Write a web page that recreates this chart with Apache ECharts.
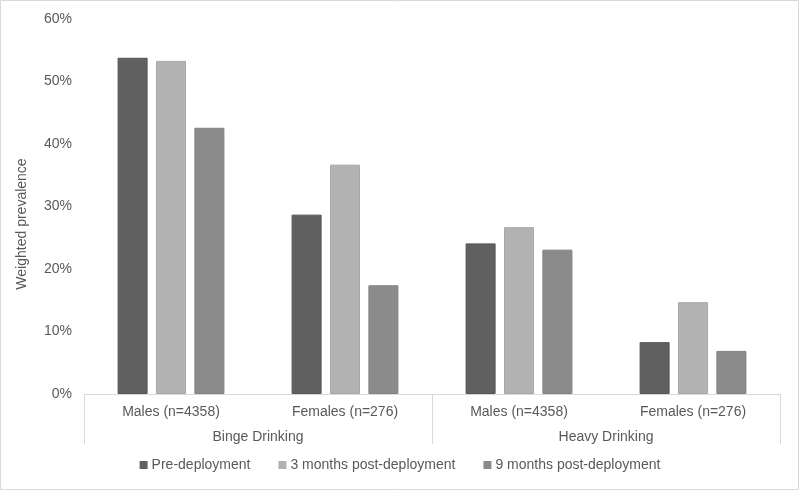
<!DOCTYPE html>
<html>
<head>
<meta charset="utf-8">
<script src="https://cdn.jsdelivr.net/npm/echarts@6/dist/echarts.min.js"></script>
<style>html,body{margin:0;padding:0;background:#fff}#c{width:800px;height:491px}</style>
</head>
<body>
<div id="c"></div>
<script>
const subCategories = ["Males (n=4358)", "Females (n=276)", "Males (n=4358)", "Females (n=276)"];
const groupCategories = ["Binge Drinking", "Heavy Drinking"];
const seriesNames = ["Pre-deployment", "3 months post-deployment", "9 months post-deployment"];
const preDeployment = [53.8, 28.7, 24.1, 8.3];
const threeMonths = [53.3, 36.7, 26.7, 14.7];
const nineMonths = [42.6, 17.4, 23.1, 6.9];
const yTicks = [0, 10, 20, 30, 40, 50, 60];
const yTitle = "Weighted prevalence";

const colors = ["#606060", "#b2b2b2", "#8b8b8b"];
const borders = ["#555555", "#a8a8a8", "#808080"];
const values = [preDeployment, threeMonths, nineMonths];
const font = "Liberation Sans, Arial, sans-serif";

const chart = echarts.init(document.getElementById('c'), null, {renderer: 'canvas'});
chart.setOption({
  animation: false,
  backgroundColor: '#ffffff',
  color: colors,
  grid: {left: 84, right: 20, top: 19, bottom: 97, containLabel: false},
  legend: {
    bottom: 14,
    left: 'center',
    itemWidth: 8,
    itemHeight: 8,
    itemGap: 28,
    icon: 'rect',
    itemStyle: {borderWidth: 0},
    textStyle: {color: '#595959', fontSize: 14, fontFamily: font, padding: [0, 0, 0, -1]},
    data: seriesNames
  },
  xAxis: [
    {
      type: 'category',
      data: subCategories,
      position: 'bottom',
      axisLine: {show: true, lineStyle: {color: '#d9d9d9', width: 1}},
      axisTick: {show: false},
      axisLabel: {color: '#595959', fontSize: 14, fontFamily: font, margin: 11, interval: 0}
    },
    {
      type: 'category',
      data: groupCategories,
      position: 'bottom',
      axisLine: {show: false},
      axisTick: {show: true, length: 50, interval: 0, lineStyle: {color: '#d9d9d9', width: 1}},
      axisLabel: {color: '#595959', fontSize: 14, fontFamily: font, margin: 36, interval: 0},
      splitLine: {show: false}
    }
  ],
  yAxis: {
    type: 'value',
    min: yTicks[0],
    max: yTicks[yTicks.length - 1],
    interval: 10,
    axisLine: {show: false},
    axisTick: {show: false},
    splitLine: {show: false},
    axisLabel: {color: '#595959', fontSize: 14, fontFamily: font, margin: 12, formatter: '{value}%'}
  },
  series: seriesNames.map((name, i) => ({
    name: name,
    type: 'bar',
    xAxisIndex: 0,
    data: values[i],
    barWidth: 30,
    barGap: '28%',
    itemStyle: {color: colors[i], borderColor: borders[i], borderWidth: 1}
  })),
  graphic: [
    {
      type: 'text',
      x: 22, y: 224,
      rotation: Math.PI / 2,
      style: {text: yTitle, fill: '#595959', fontSize: 14, fontFamily: font, align: 'center', verticalAlign: 'middle'}
    },
    {
      type: 'rect',
      shape: {x: 0.5, y: 0.5, width: 798, height: 489},
      style: {fill: 'none', stroke: '#d9d9d9', lineWidth: 1},
      silent: true
    }
  ]
});
</script>
</body>
</html>
